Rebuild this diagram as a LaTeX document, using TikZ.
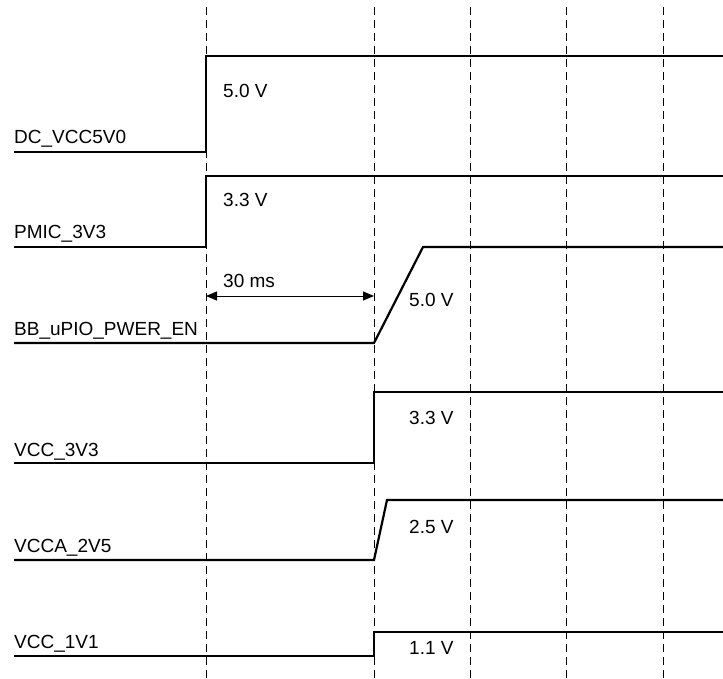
\documentclass[tikz,border=0pt]{standalone}
\usepackage{fontspec}
\setmainfont{Liberation Sans}
\usetikzlibrary{arrows.meta, positioning, calc}

\begin{document}
\begin{tikzpicture}[x=1pt, y=-1pt, every node/.style={font=\fontsize{19}{21}\selectfont, inner sep=0pt}]
    \tikzset{
        guide/.style={draw, line width=0.9pt, dash pattern=on 8pt off 5pt},
        wave/.style={draw, line width=2.2pt},
        sig/.style={anchor=base west},
        volt/.style={anchor=west},
    }
    \useasboundingbox (0,0) rectangle (723,679);

    % 时间参考线
    \foreach \t/\nm in {206/ta, 374/tb, 470/tc, 566/td, 663/te} {
        \coordinate (\nm top) at (\t, 7);
        \coordinate (\nm bot) at (\t, 679);
        \draw[guide] (\nm top) -- (\nm bot);
    }

    % DC_VCC5V0
    \node[sig] (dc) at (14, 144) {DC\_VCC5V0};
    \node[volt] (dcv) at (223, 91) {5.0 V};
    \draw[wave] (14, 152) -- (206, 152) -- (206, 56) -- (723, 56);

    % PMIC_3V3
    \node[sig] (pmic) at (14, 239) {PMIC\_3V3};
    \node[volt] (pmicv) at (223, 200) {3.3 V};
    \draw[wave] (14, 247) -- (206, 247) -- (206, 176) -- (723, 176);

    % BB_uPIO_PWER_EN
    \node[sig] (bb) at (14, 335) {BB\_uPIO\_PWER\_EN};
    \node[volt] (bbv) at (409, 300) {5.0 V};
    \draw[wave] (14, 343) -- (374, 343) -- (423, 247) -- (723, 247);

    % 延时
    \coordinate (arrL) at (206, 296);
    \coordinate (arrR) at (374, 296);
    \draw[line width=0.9pt, {Triangle[length=11pt, width=9pt]}-{Triangle[length=11pt, width=9pt]}] (arrL) -- (arrR);
    \node[volt] (delay) at (223, 281) {30 ms};

    % VCC_3V3
    \node[sig] (v33) at (14, 456) {VCC\_3V3};
    \node[volt] (v33v) at (409, 418) {3.3 V};
    \draw[wave] (14, 463) -- (374, 463) -- (374, 392) -- (723, 392);

    % VCCA_2V5
    \node[sig] (v25) at (14, 552) {VCCA\_2V5};
    \node[volt] (v25v) at (409, 527) {2.5 V};
    \draw[wave] (14, 560) -- (374, 560) -- (387, 500) -- (723, 500);

    % VCC_1V1
    \node[sig] (v11) at (14, 648) {VCC\_1V1};
    \node[volt] (v11v) at (409, 648) {1.1 V};
    \draw[wave] (14, 656) -- (374, 656) -- (374, 632) -- (723, 632);
\end{tikzpicture}
\end{document}
